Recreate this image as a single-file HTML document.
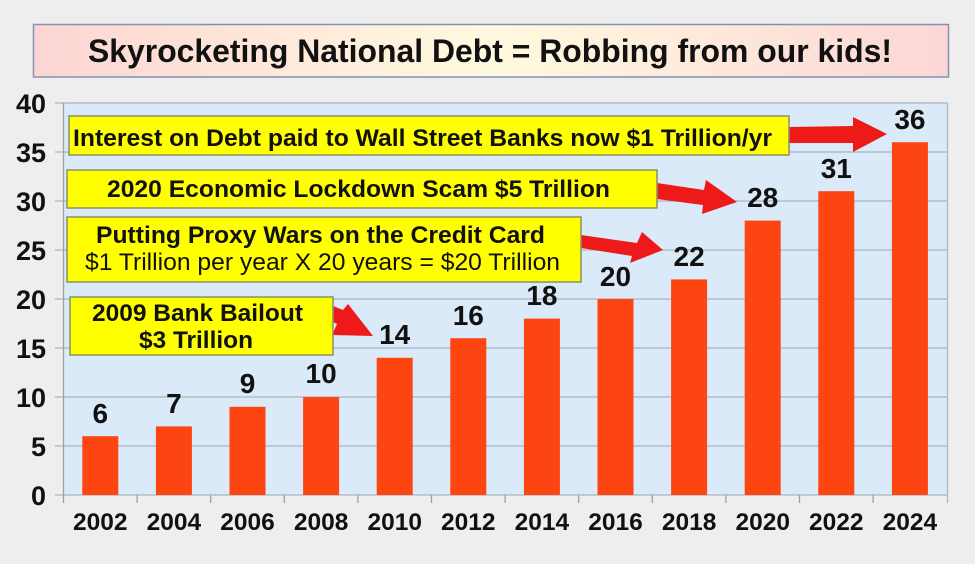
<!DOCTYPE html>
<html><head><meta charset="utf-8"><style>
html,body{margin:0;padding:0;background:#eeeeee;}
svg{display:block;}
text{font-family:"Liberation Sans",Arial,sans-serif;}
</style></head><body>
<svg width="975" height="564" viewBox="0 0 975 564" xmlns="http://www.w3.org/2000/svg">
<defs>
<linearGradient id="tg" x1="0" y1="0" x2="1" y2="0">
<stop offset="0" stop-color="#fcd5d3"/>
<stop offset="0.5" stop-color="#fffadf"/>
<stop offset="1" stop-color="#fcd6d6"/>
</linearGradient>
</defs>
<rect x="0" y="0" width="975" height="564" fill="#eeeeee"/>
<!-- title -->
<rect x="33.5" y="24.5" width="915" height="52.5" fill="url(#tg)" stroke="#8491b3" stroke-width="1.5"/>
<text x="88" y="62" font-size="32" font-weight="bold" fill="#111" textLength="804" lengthAdjust="spacingAndGlyphs">Skyrocketing National Debt = Robbing from our kids!</text>

<!-- plot area -->
<rect x="63.5" y="103" width="884" height="392" fill="#dbeaf9"/>
<g stroke="#aab4be" stroke-width="1.2">
<line x1="55" y1="103" x2="947.5" y2="103"/>
<line x1="55" y1="152" x2="947.5" y2="152"/>
<line x1="55" y1="201" x2="947.5" y2="201"/>
<line x1="55" y1="250" x2="947.5" y2="250"/>
<line x1="55" y1="299" x2="947.5" y2="299"/>
<line x1="55" y1="348" x2="947.5" y2="348"/>
<line x1="55" y1="397" x2="947.5" y2="397"/>
<line x1="55" y1="446" x2="947.5" y2="446"/>
<line x1="55" y1="495" x2="947.5" y2="495"/>
<line x1="947.5" y1="103" x2="947.5" y2="503"/>
</g>
<g stroke="#9aa0a8" stroke-width="1.3">
<line x1="63.5" y1="103" x2="63.5" y2="503"/>
<line x1="137.1" y1="495" x2="137.1" y2="503"/>
<line x1="210.7" y1="495" x2="210.7" y2="503"/>
<line x1="284.3" y1="495" x2="284.3" y2="503"/>
<line x1="357.9" y1="495" x2="357.9" y2="503"/>
<line x1="431.5" y1="495" x2="431.5" y2="503"/>
<line x1="505.1" y1="495" x2="505.1" y2="503"/>
<line x1="578.7" y1="495" x2="578.7" y2="503"/>
<line x1="652.3" y1="495" x2="652.3" y2="503"/>
<line x1="725.9" y1="495" x2="725.9" y2="503"/>
<line x1="799.5" y1="495" x2="799.5" y2="503"/>
<line x1="873.1" y1="495" x2="873.1" y2="503"/>
</g>

<!-- y labels -->
<g font-size="27" font-weight="bold" fill="#111" text-anchor="end">
<text x="46" y="113">40</text>
<text x="46" y="162">35</text>
<text x="46" y="211">30</text>
<text x="46" y="260">25</text>
<text x="46" y="309">20</text>
<text x="46" y="358">15</text>
<text x="46" y="407">10</text>
<text x="46" y="456">5</text>
<text x="46" y="505">0</text>
</g>

<!-- bars -->
<g fill="#fd4512">
<rect x="82.3" y="436.2" width="36" height="58.8"/>
<rect x="155.9" y="426.4" width="36" height="68.6"/>
<rect x="229.5" y="406.8" width="36" height="88.2"/>
<rect x="303.1" y="397" width="36" height="98"/>
<rect x="376.7" y="357.8" width="36" height="137.2"/>
<rect x="450.3" y="338.2" width="36" height="156.8"/>
<rect x="523.9" y="318.6" width="36" height="176.4"/>
<rect x="597.5" y="299" width="36" height="196"/>
<rect x="671.1" y="279.4" width="36" height="215.6"/>
<rect x="744.7" y="220.6" width="36" height="274.4"/>
<rect x="818.3" y="191.2" width="36" height="303.8"/>
<rect x="891.9" y="142.2" width="36" height="352.8"/>
</g>

<!-- value labels -->
<g font-size="28" font-weight="bold" fill="#111" text-anchor="middle">
<text x="100.3" y="423">6</text>
<text x="173.9" y="413">7</text>
<text x="247.5" y="393">9</text>
<text x="321.1" y="383">10</text>
<text x="394.7" y="344">14</text>
<text x="468.3" y="325">16</text>
<text x="541.9" y="305">18</text>
<text x="615.5" y="286">20</text>
<text x="689.1" y="266">22</text>
<text x="762.7" y="207">28</text>
<text x="836.3" y="178">31</text>
<text x="909.9" y="129">36</text>
</g>

<!-- x labels -->
<g font-size="24.5" font-weight="bold" fill="#111" text-anchor="middle">
<text x="100.3" y="530">2002</text>
<text x="173.9" y="530">2004</text>
<text x="247.5" y="530">2006</text>
<text x="321.1" y="530">2008</text>
<text x="394.7" y="530">2010</text>
<text x="468.3" y="530">2012</text>
<text x="541.9" y="530">2014</text>
<text x="615.5" y="530">2016</text>
<text x="689.1" y="530">2018</text>
<text x="762.7" y="530">2020</text>
<text x="836.3" y="530">2022</text>
<text x="909.9" y="530">2024</text>
</g>

<!-- arrows -->
<g fill="#ee1a1a">
<polygon points="789,127 853,126 853,117 887,134 853,152 853,143 789,143"/>
<polygon points="657,183 704,190 706,180 737,202 702,214 703,205 657,199"/>
<polygon points="581,235 637,243 642,232 663,250 630,263 632,256 581,248"/>
<polygon points="333,306 343,310 348,304 373,336 332,335 337,324 333,322"/>
</g>

<!-- annotation boxes -->
<g fill="#ffff00" stroke="#879160" stroke-width="1.5">
<rect x="69" y="116" width="720" height="39"/>
<rect x="67" y="170" width="590" height="38"/>
<rect x="67" y="217" width="514" height="65"/>
<rect x="70" y="297" width="263" height="58"/>
</g>
<g fill="#111" font-size="24.5">
<text x="73" y="146" font-weight="bold" textLength="699" lengthAdjust="spacingAndGlyphs">Interest on Debt paid to Wall Street Banks now $1 Trillion/yr</text>
<text x="107" y="197" font-weight="bold" textLength="503" lengthAdjust="spacingAndGlyphs">2020 Economic Lockdown Scam $5 Trillion</text>
<text x="96" y="243" font-weight="bold" textLength="449" lengthAdjust="spacingAndGlyphs">Putting Proxy Wars on the Credit Card</text>
<text x="85" y="270" font-size="24" textLength="475" lengthAdjust="spacingAndGlyphs">$1 Trillion per year X 20 years = $20 Trillion</text>
<text x="92" y="321" font-weight="bold" textLength="211" lengthAdjust="spacingAndGlyphs">2009 Bank Bailout</text>
<text x="139" y="348" font-weight="bold" textLength="114" lengthAdjust="spacingAndGlyphs">$3 Trillion</text>
</g>
</svg>
</body></html>
